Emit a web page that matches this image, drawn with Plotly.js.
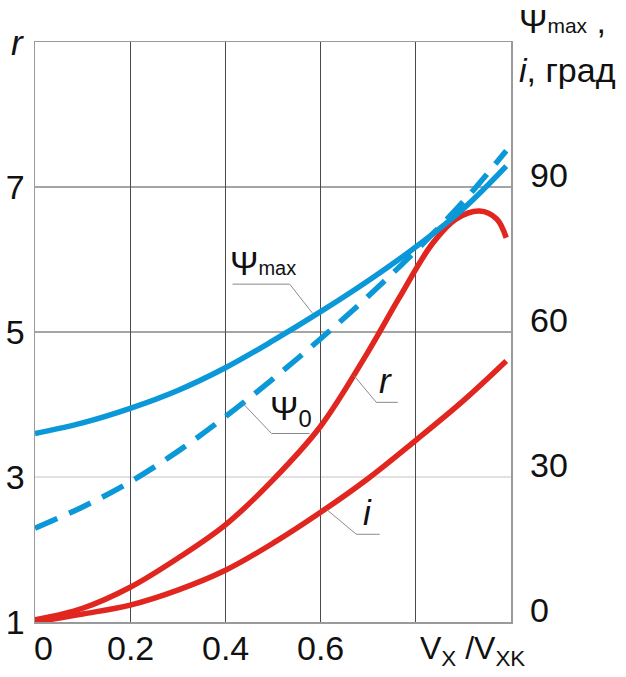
<!DOCTYPE html>
<html>
<head>
<meta charset="utf-8">
<script src="https://cdn.plot.ly/plotly-3.0.1.min.js"></script>
<style>
  html, body { margin: 0; padding: 0; background: #fff; }
  #chart { width: 626px; height: 677px; }
</style>
</head>
<body>
<div id="chart"></div>
<script>
// Relative speed V_X / V_XK
const xGrid = [0, 0.1, 0.2, 0.3, 0.4, 0.5, 0.6, 0.7, 0.8, 0.9, 0.99];

// Psi_max, degrees (right axis)
const psiMax = [39.0, 41.2, 44.2, 47.9, 52.6, 58.2, 64.2, 70.6, 77.6, 85.5, 94.3];
// Psi_0, degrees (right axis, dashed)
const psi0 = [19.4, 23.8, 29.0, 35.3, 42.5, 50.3, 58.6, 67.4, 76.8, 87.0, 97.5];
// i, degrees (right axis)
const incl = [0, 1.65, 3.5, 6.6, 10.7, 16.3, 22.7, 29.7, 37.6, 45.8, 54.0];

// r (left axis)
const rX = [0, 0.1, 0.2, 0.3, 0.4, 0.5, 0.6, 0.7, 0.765, 0.835, 0.885, 0.934, 0.97, 0.99];
const rY = [1.03, 1.19, 1.48, 1.88, 2.34, 2.96, 3.70, 4.73, 5.47, 6.22, 6.56, 6.67, 6.56, 6.30];

// Axis ticks
const xTicks = [0, 0.2, 0.4, 0.6, 0.8];
const xTickText = ['0', '0.2', '0.4', '0.6'];
const rTicks = [1, 3, 5, 7];
const degTicks = [0, 30, 60, 90];

const RED = '#e0261f';
const BLUE = '#0a98d8';
const FONT = 'Arial, "Liberation Sans", sans-serif';
const INK = '#111';

const traces = [
  { x: xGrid, y: psiMax, yaxis: 'y2', mode: 'lines',
    line: { color: BLUE, width: 5.5, shape: 'spline' }, hoverinfo: 'skip' },
  { x: xGrid, y: psi0, yaxis: 'y2', mode: 'lines',
    line: { color: BLUE, width: 5.5, shape: 'spline', dash: '24px,13px' }, hoverinfo: 'skip' },
  { x: xGrid, y: incl, yaxis: 'y2', mode: 'lines',
    line: { color: RED, width: 5.5, shape: 'spline' }, hoverinfo: 'skip' },
  { x: rX, y: rY, yaxis: 'y', mode: 'lines',
    line: { color: RED, width: 5.5, shape: 'spline' }, hoverinfo: 'skip' }
];

// horizontal reference lines on the r scale
function hline(y, color) {
  return { type: 'line', xref: 'paper', yref: 'y', x0: 0, x1: 1, y0: y, y1: y,
           line: { color: color, width: 1 }, layer: 'below' };
}
// leader line from a curve to its label
function leader(pts) {
  const s = [];
  for (let k = 0; k < pts.length - 1; k++) {
    s.push({ type: 'line', xref: 'x', yref: 'y',
             x0: pts[k][0], y0: pts[k][1], x1: pts[k + 1][0], y1: pts[k + 1][1],
             line: { color: '#8a8a8a', width: 1 }, layer: 'above' });
  }
  return s;
}

const shapes = [
  hline(3, '#c4c4c4'),
  hline(5, '#4a4a4a'),
  hline(7, '#4a4a4a'),
  ...leader([[0.583, 5.26], [0.535, 5.66], [0.415, 5.66]]),
  ...leader([[0.436, 4.02], [0.497, 3.60], [0.577, 3.60]]),
  ...leader([[0.670, 4.40], [0.717, 4.03], [0.762, 4.03]]),
  ...leader([[0.613, 2.55], [0.675, 2.21], [0.724, 2.21]])
];

// x tick labels, set just under the frame
const xLabels = xTickText.map((t, k) => ({
  xref: 'x', yref: 'paper', x: k === 0 ? xTicks[k] + 0.018 : xTicks[k], y: -0.045,
  xanchor: 'center', yanchor: 'middle', text: t, showarrow: false,
  font: { family: FONT, size: 34, color: INK }
}));

const annotations = [
  ...xLabels,
  { xref: 'x', yref: 'y', x: 0.405, y: 5.66, xanchor: 'left', yanchor: 'bottom',
    text: 'Ψ<span style="font-size:20px">max</span>', showarrow: false,
    font: { family: FONT, size: 34, color: INK } },
  { xref: 'x', yref: 'y', x: 0.49, y: 3.6, xanchor: 'left', yanchor: 'bottom',
    text: 'Ψ<sub>0</sub>', showarrow: false,
    font: { family: FONT, size: 34, color: INK } },
  { xref: 'x', yref: 'y', x: 0.718, y: 4.03, xanchor: 'left', yanchor: 'bottom',
    text: '<i>r</i>', showarrow: false,
    font: { family: FONT, size: 35, color: INK } },
  { xref: 'x', yref: 'y', x: 0.684, y: 2.21, xanchor: 'left', yanchor: 'bottom',
    text: '<i>i</i>', showarrow: false,
    font: { family: FONT, size: 35, color: INK } },
  // axis titles
  { xref: 'paper', yref: 'paper', x: -0.036, y: 1.0, xanchor: 'center', yanchor: 'middle',
    text: '<i>r</i>', showarrow: false,
    font: { family: FONT, size: 35, color: INK } },
  { xref: 'paper', yref: 'paper', x: 1.012, y: 1.036, xanchor: 'left', yanchor: 'middle',
    text: 'Ψ<span style="font-size:21px">max</span> ,', showarrow: false,
    font: { family: FONT, size: 34, color: INK } },
  { xref: 'paper', yref: 'paper', x: 1.012, y: 0.952, xanchor: 'left', yanchor: 'middle',
    text: '<i>i</i>, град', showarrow: false,
    font: { family: FONT, size: 34, color: INK } },
  { xref: 'x', yref: 'paper', x: 0.805, y: -0.01, xanchor: 'left', yanchor: 'top',
    text: 'V<sub>X</sub> /V<sub>XK</sub>', showarrow: false,
    font: { family: FONT, size: 32, color: INK } }
];

const layout = {
  width: 626, height: 677,
  margin: { l: 35, r: 115, t: 42, b: 55 },
  paper_bgcolor: '#fff', plot_bgcolor: '#fff',
  showlegend: false,
  font: { family: FONT, size: 34, color: INK },
  xaxis: {
    range: [0, 1], tickvals: xTicks, showticklabels: false,
    showgrid: true, gridcolor: '#4a4a4a', gridwidth: 1,
    zeroline: false, showline: true, mirror: true, linecolor: '#9a9a9a', linewidth: 1.5,
    ticks: '', ticklen: 0
  },
  yaxis: {
    range: [1, 9], tickvals: rTicks, ticktext: rTicks.map(String),
    showgrid: false, zeroline: false,
    showline: true, mirror: true, linecolor: '#9a9a9a', linewidth: 1.5,
    ticks: '', ticklen: 0, ticklabelstandoff: 2,
    tickfont: { family: FONT, size: 34, color: INK }
  },
  yaxis2: {
    range: [0, 120], tickvals: degTicks, ticktext: degTicks.map(String),
    overlaying: 'y', side: 'right', showgrid: false, zeroline: false, showline: false,
    ticks: '', ticklen: 0, ticklabelstandoff: 18, ticklabelshift: -12,
    tickfont: { family: FONT, size: 34, color: INK }
  },
  shapes: shapes,
  annotations: annotations
};

Plotly.newPlot('chart', traces, layout, { staticPlot: true, displayModeBar: false });
</script>
</body>
</html>
